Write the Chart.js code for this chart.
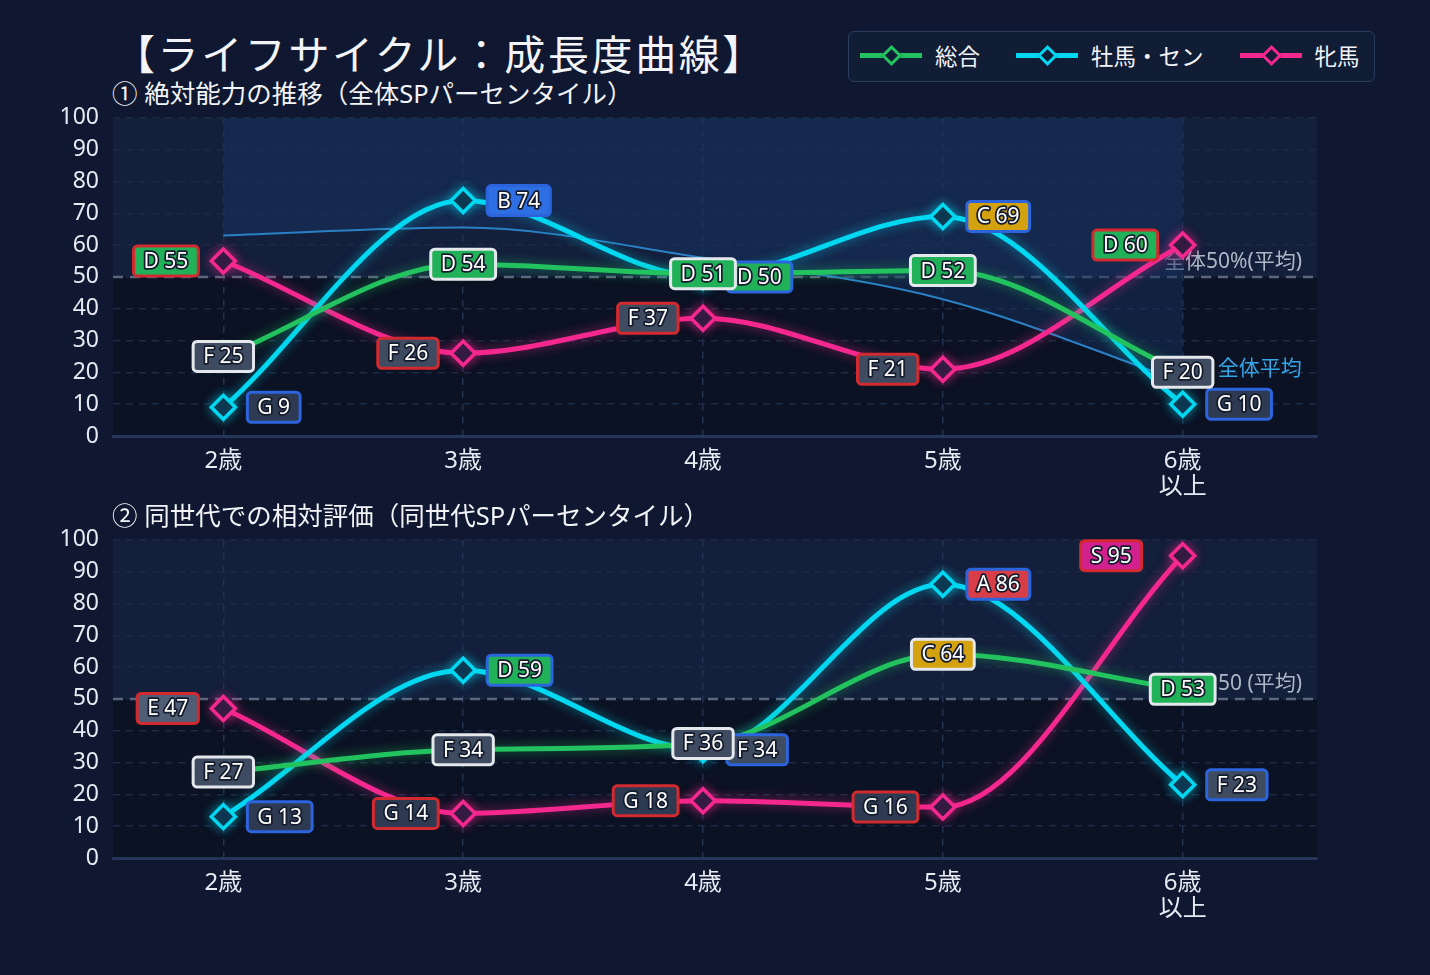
<!DOCTYPE html>
<html lang="ja">
<head>
<meta charset="utf-8">
<title>ライフサイクル：成長度曲線</title>
<script src="https://cdn.jsdelivr.net/npm/chart.js@4.4.1/dist/chart.umd.min.js"></script>
<style>
  body { margin: 0; background: #0f1830; font-family: "Noto Sans", "Noto Sans CJK JP", sans-serif; color: #f2f4f8; }
  #page { position: relative; width: 1430px; height: 975px; overflow: hidden; }
  .title { position: absolute; left: 114px; top: 27px; font-size: 41px; line-height: 54px; letter-spacing: 2.6px; white-space: nowrap; }
  .sub { position: absolute; left: 112px; font-size: 25.5px; line-height: 30px; white-space: nowrap; }
  #legend { position: absolute; left: 848px; top: 31px; width: 527px; height: 51px; box-sizing: border-box;
            border: 1.5px solid #2b3b5c; border-radius: 6px; background: #111c35;
            display: flex; align-items: center; padding-left: 11px; padding-bottom: 3px; }
  .item { display: flex; align-items: center; flex-shrink: 0; margin-right: 36px; font-size: 22.5px; white-space: nowrap; }
  .swatch { position: relative; flex-shrink: 0; width: 62px; height: 5px; margin-right: 13px; }
  .swatch i { position: absolute; left: 24px; top: -5px; width: 15px; height: 15px; box-sizing: border-box;
              border: 3px solid; background: #111c35; transform: rotate(45deg); }
  .chart { position: absolute; left: 0; }
</style>
</head>
<body>
<div id="page">
  <div class="title">【ライフサイクル：成長度曲線】</div>
  <div id="legend"></div>
  <div class="sub" style="top:78px">① 絶対能力の推移（全体SPパーセンタイル）</div>
  <canvas id="absChart" class="chart" style="top:90px" width="1430" height="410"></canvas>
  <div class="sub" style="top:500px">② 同世代での相対評価（同世代SPパーセンタイル）</div>
  <canvas id="relChart" class="chart" style="top:512px" width="1430" height="410"></canvas>
</div>
<script>
const ages = ['2歳', '3歳', '4歳', '5歳', ['6歳', '以上']];
const seriesNames = ['総合', '牡馬・セン', '牝馬'];

// ① 絶対能力（全体SPパーセンタイル）
const absTotal = [25, 54, 51, 52, 20];
const absColt = [9, 74, 50, 69, 10];
const absFilly = [55, 26, 37, 21, 60];
const absAverage = [63, 65.5, 56, 43, 17];
const absTotalGrade = ['F', 'D', 'D', 'D', 'F'];
const absColtGrade = ['G', 'B', 'D', 'C', 'G'];
const absFillyGrade = ['D', 'F', 'F', 'F', 'D'];

// ② 同世代での相対評価
const relTotal = [27, 34, 36, 64, 53];
const relColt = [13, 59, 34, 86, 23];
const relFilly = [47, 14, 18, 16, 95];
const relTotalGrade = ['F', 'F', 'F', 'C', 'D'];
const relColtGrade = ['G', 'D', 'F', 'A', 'F'];
const relFillyGrade = ['E', 'G', 'G', 'G', 'S'];

const seriesColors = ['#22c35e', '#00d8f2', '#f4288e'];
const labelBorders = ['#e4e7ec', '#2b64dc', '#d22a2e'];
const labelSides = ['center', 'right', 'left'];
const gradeFill = { S: '#d2208e', A: '#d83e48', B: '#2f6fe4', C: '#d4a20e',
                    D: '#21b158', E: '#4f5d75', F: '#3f4b60', G: '#2d3a51' };

// legend
const legend = document.getElementById('legend');
seriesNames.forEach((name, i) => {
  const item = document.createElement('div');
  item.className = 'item';
  item.innerHTML = '<span class="swatch" style="background:' + seriesColors[i] + '"><i style="border-color:' +
    seriesColors[i] + '"></i></span><span>' + name + '</span>';
  legend.appendChild(item);
});

Chart.defaults.font.family = '"Noto Sans", "Noto Sans CJK JP", sans-serif';
Chart.defaults.color = '#e6eaf2';

const xy = arr => arr.map((v, i) => ({ x: i, y: v }));

const lifecyclePlugin = {
  id: 'lifecycle',
  beforeDraw(chart) {
    const { ctx, chartArea: a, scales: { y } } = chart;
    const y50 = y.getPixelForValue(50);
    ctx.save();
    ctx.fillStyle = '#131f3b';
    ctx.fillRect(a.left, a.top, a.width, y50 - a.top);
    ctx.fillStyle = '#0b1223';
    ctx.fillRect(a.left, y50, a.width, a.bottom - y50);
    ctx.restore();
  },
  beforeDatasetsDraw(chart, args, opts) {
    const { ctx, chartArea: a, scales: { x, y } } = chart;
    const y50 = y.getPixelForValue(50);
    ctx.save();
    ctx.strokeStyle = '#5a667e';
    ctx.lineWidth = 2.5;
    ctx.setLineDash([10, 7]);
    ctx.beginPath();
    ctx.moveTo(a.left, y50);
    ctx.lineTo(a.right, y50);
    ctx.stroke();
    ctx.setLineDash([]);
    ctx.font = '21px "Noto Sans", "Noto Sans CJK JP"';
    ctx.textBaseline = 'middle';
    ctx.textAlign = 'right';
    ctx.fillStyle = '#aeb7c6';
    ctx.fillText(opts.midNote, a.right - 15, y50 - 15);
    if (opts.avgNote) {
      ctx.textAlign = 'left';
      ctx.fillStyle = '#35a5e8';
      const last = opts.avgNote.values.length - 1;
      ctx.fillText(opts.avgNote.text, x.getPixelForValue(last) + 35,
                   y.getPixelForValue(opts.avgNote.values[last]) - 13);
    }
    ctx.restore();
  },
  beforeDatasetDraw(chart, args) {
    const ds = chart.data.datasets[args.index];
    if (!ds.glow) return;
    chart.ctx.save();
    chart.ctx.shadowColor = ds.glow;
    chart.ctx.shadowBlur = 11;
  },
  afterDatasetDraw(chart, args) {
    if (chart.data.datasets[args.index].glow) chart.ctx.restore();
  },
  afterDatasetsDraw(chart, args, opts) {
    const ctx = chart.ctx;
    ctx.save();
    ctx.font = '21px "Noto Sans", "Noto Sans CJK JP"';
    ctx.textBaseline = 'middle';
    ctx.textAlign = 'center';
    ctx.lineJoin = 'round';
    [2, 1, 0].forEach(di => {
      const ds = chart.data.datasets[di];
      const meta = chart.getDatasetMeta(di);
      meta.data.forEach((pt, i) => {
        const v = ds.data[i].y;
        const g = ds.grades[i];
        const text = g + ' ' + v;
        const w = ctx.measureText(text).width + 20, h = 30;
        let cx = pt.x;
        if (labelSides[di] === 'right') cx = pt.x + 24 + w / 2;
        if (labelSides[di] === 'left') cx = pt.x - 25 - w / 2;
        cx += (opts.nudge && opts.nudge[di + '-' + i]) || 0;
        ctx.beginPath();
        ctx.roundRect(cx - w / 2, pt.y - h / 2, w, h, 4);
        ctx.fillStyle = gradeFill[g];
        ctx.fill();
        ctx.lineWidth = 3;
        ctx.strokeStyle = labelBorders[di];
        ctx.stroke();
        ctx.lineWidth = 3.5;
        ctx.strokeStyle = '#151c2d';
        ctx.strokeText(text, cx, pt.y + 1);
        ctx.fillStyle = '#ffffff';
        ctx.fillText(text, cx, pt.y + 1);
      });
    });
    ctx.restore();
  }
};

function seriesSet(values, grades) {
  return values.map((vals, i) => ({
    label: seriesNames[i],
    data: xy(vals),
    grades: grades[i],
    borderColor: seriesColors[i],
    borderWidth: 5,
    cubicInterpolationMode: 'monotone',
    glow: seriesColors[i] + '90',
    pointStyle: 'rectRot',
    pointRadius: i === 0 ? 9 : 12,
    pointBorderWidth: 3.5,
    pointBorderColor: seriesColors[i],
    pointBackgroundColor: '#0f1932'
  }));
}

function makeChart(id, datasets, pluginOpts) {
  return new Chart(document.getElementById(id), {
    type: 'line',
    data: { datasets: datasets },
    options: {
      responsive: false,
      animation: false,
      layout: { autoPadding: false, padding: { top: 7, right: 113, bottom: 0, left: 0 } },
      plugins: { legend: { display: false }, tooltip: { enabled: false }, lifecycle: pluginOpts },
      scales: {
        x: {
          type: 'linear', min: -0.46, max: 4.56,
          afterBuildTicks: s => { s.ticks = ages.map((a, i) => ({ value: i })); },
          afterFit: s => { s.height = 64; },
          ticks: { callback: v => ages[v], font: { size: 24, lineHeight: 1.1 }, padding: 12, maxRotation: 0, autoSkip: false },
          grid: { color: '#22324f', lineWidth: 1.5, drawTicks: false },
          border: { display: true, color: '#25365a', width: 3, dash: [7, 6] }
        },
        y: {
          min: 0, max: 100,
          afterFit: s => { s.width = 113; },
          ticks: { stepSize: 10, font: { size: 23 }, padding: 14 },
          grid: { color: '#1c2a48', lineWidth: 1.5, drawTicks: false },
          border: { display: false, dash: [7, 6] }
        }
      }
    },
    plugins: [lifecyclePlugin]
  });
}

const absSets = seriesSet([absTotal, absColt, absFilly], [absTotalGrade, absColtGrade, absFillyGrade]);
absSets.push({
  label: '全体平均',
  data: xy(absAverage),
  borderColor: '#2a80c4',
  borderWidth: 2,
  cubicInterpolationMode: 'monotone',
  pointRadius: 0,
  fill: 'end',
  backgroundColor: 'rgba(24, 50, 96, 0.5)',
  order: 5
});

makeChart('absChart', absSets, {
  midNote: '全体50%(平均)',
  avgNote: { text: '全体平均', values: absAverage }
});

makeChart('relChart', seriesSet([relTotal, relColt, relFilly], [relTotalGrade, relColtGrade, relFillyGrade]), {
  midNote: '50 (平均)',
  nudge: { '2-4': -16 }
});
</script>
</body>
</html>
